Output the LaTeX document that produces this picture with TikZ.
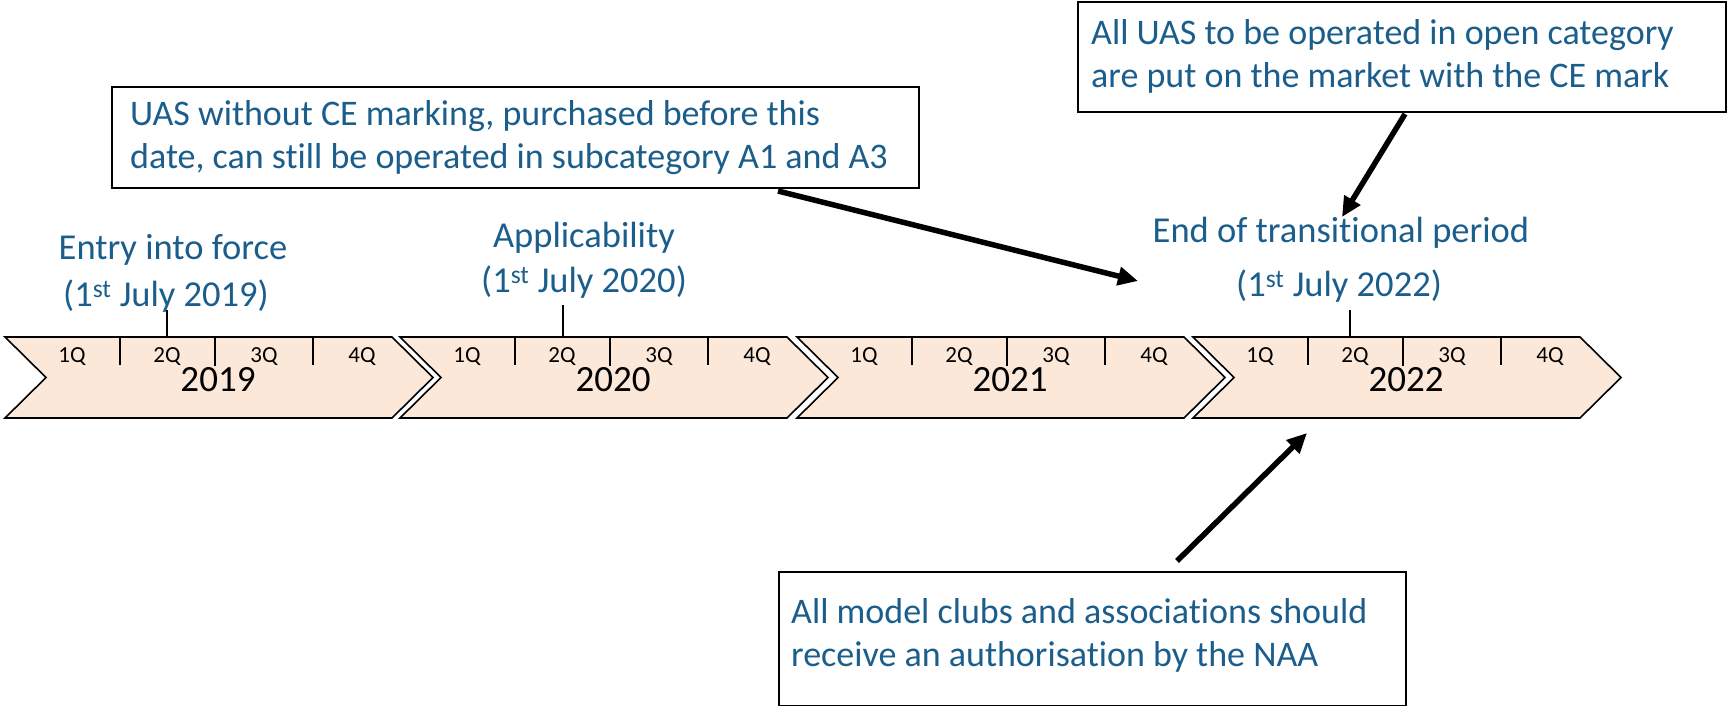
\documentclass[tikz,border=0pt]{standalone}
\usepackage{fontspec}
\setmainfont{Carlito}[Ligatures=NoCommon]
\usetikzlibrary{arrows.meta,calc}
\definecolor{txtblue}{HTML}{1B5E8C}
\definecolor{peach}{HTML}{FCE8D9}
\tikzset{
  chev/.style={draw=black, fill=peach, line width=1.6pt, line join=miter},
  qtick/.style={line width=2pt, draw=black},
  qlab/.style={font=\fontsize{23}{26}\selectfont, text=black, inner sep=0pt},
  ylab/.style={font=\fontsize{37}{40}\selectfont, text=black, inner sep=0pt},
  datelab/.style={font=\fontsize{36.5}{40}\selectfont, text=txtblue, inner sep=0pt},
  notebox/.style={draw=black, line width=1.6pt, fill=white, inner sep=0pt},
  notetxt/.style={font=\fontsize{36}{43}\selectfont, text=txtblue, align=left, inner sep=0pt},
  callout/.style={line width=5.5pt, draw=black, -{Triangle[length=20pt,width=18pt]}}
}
\begin{document}
\begin{tikzpicture}[x=1pt,y=-1pt]
\useasboundingbox (0,0) rectangle (1728,706);
% chevrons
\foreach \s/\yr/\n in {5/2019/a,400/2020/b,797/2021/c,1193/2022/d}{
  \draw[chev] (\s,337) -- ++(387,0) -- ++(41,40.5) -- ++(-41,40.5) -- ++(-387,0) -- ++(41,-40.5) -- cycle;
  \draw[qtick] (\s+115,337) -- (\s+115,365);
  \draw[qtick] (\s+210,336) -- (\s+210,366);
  \draw[qtick] (\s+308,337) -- (\s+308,365);
  \node[qlab] (q1\n) at (\s+67,357) {1Q};
  \node[qlab] (q2\n) at (\s+162,357) {2Q};
  \node[qlab] (q3\n) at (\s+259,357) {3Q};
  \node[qlab] (q4\n) at (\s+357,357) {4Q};
  \node[ylab] (y\n) at (\s+213,380) {\yr};
}
% date ticks
\coordinate (t1top) at (167,310); \coordinate (t1bot) at (167,337);
\coordinate (t2top) at (563,305); \coordinate (t2bot) at (563,337);
\coordinate (t4top) at (1350,310); \coordinate (t4bot) at (1350,337);
\draw[qtick] (t1top) -- (t1bot);
\draw[qtick] (t2top) -- (t2bot);
\draw[qtick] (t4top) -- (t4bot);
% date labels
\node[datelab] (d1a) at (173,250) {Entry into force};
\node[datelab] (d1b) at (166,296) {(1\textsuperscript{st} July 2019)};
\node[datelab] (d2a) at (584,238) {Applicability};
\node[datelab] (d2b) at (584,282) {(1\textsuperscript{st} July 2020)};
\node[datelab] (d4a) at (1341,233) {End of transitional period};
\node[datelab] (d4b) at (1339,286) {(1\textsuperscript{st} July 2022)};
% note boxes
\node[notebox, anchor=north west, minimum width=807, minimum height=101] (b1) at (111,86) {};
\node[notetxt, anchor=north west] (b1t) at (130,100) {UAS without CE marking, purchased before this\\date, can still be operated in subcategory A1 and A3};
\node[notebox, anchor=north west, minimum width=648, minimum height=110] (b2) at (1077,1) {};
\node[notetxt, anchor=north west] (b2t) at (1091,19) {All UAS to be operated in open category\\are put on the market with the CE mark};
\node[notebox, anchor=north west, minimum width=627, minimum height=134] (b3) at (778,571) {};
\node[notetxt, anchor=north west] (b3t) at (791,598) {All model clubs and associations should\\receive an authorisation by the NAA};
% callout arrows
\coordinate (a1s) at (778,191);
\coordinate (a1e) at (1138,281);
\coordinate (a2s) at (1405,114);
\coordinate (a2e) at (1342,217);
\coordinate (a3s) at (1177,561);
\coordinate (a3e) at (1307,433);
\draw[callout] (a1s) -- (a1e);
\draw[callout] (a2s) -- (a2e);
\draw[callout] (a3s) -- (a3e);
\end{tikzpicture}
\end{document}
